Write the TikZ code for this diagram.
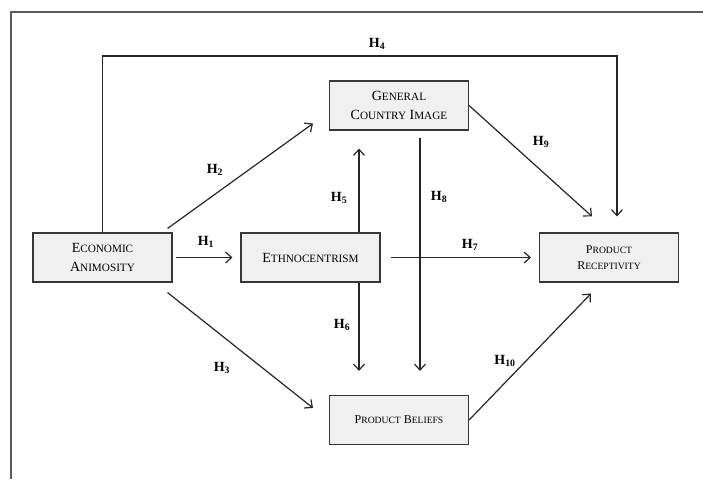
\documentclass[tikz,border=0pt]{standalone}
\usepackage{fontspec}
\setmainfont{Liberation Serif}
\usetikzlibrary{arrows.meta}

% chữ hoa nhỏ giả (small caps)
\newcommand{\fscA}[2]{{\fontsize{14}{19}\selectfont #1}{\fontsize{11.2}{19}\selectfont #2}}
\newcommand{\fscB}[2]{{\fontsize{12}{16}\selectfont #1}{\fontsize{9.6}{16}\selectfont #2}}
\newcommand{\hyp}[1]{\textbf{H\textsubscript{#1}}}

\begin{document}
\begin{tikzpicture}[x=1pt, y=-1pt, >={Straight Barb[length=6pt,width=11pt]}]
	
	% ==========================================
	% 1. MÀU SẮC VÀ KIỂU
	% ==========================================
	\definecolor{boxfill}{RGB}{240, 240, 240}   % nền hộp
	\definecolor{boxline}{RGB}{55, 55, 55}      % viền hộp
	\definecolor{framecol}{RGB}{90, 90, 90}     % khung ngoài
	
	\tikzset{
		construct/.style={draw=boxline, fill=boxfill, line width=1.1pt, minimum width=139pt, minimum height=49pt, align=center, inner sep=0pt, font=\fontsize{14}{19}\selectfont},
		smallconstruct/.style={construct, font=\fontsize{12}{16}\selectfont},
		link/.style={line width=1.2pt, draw=black!85},
		arr/.style={link, ->},
		hlabel/.style={font=\fontsize{14}{16}\selectfont, inner sep=0pt}
	}
	
	\useasboundingbox (0,0) rectangle (703,479);
	
	% ==========================================
	% 2. KHUNG NGOÀI
	% ==========================================
	\draw[framecol, line width=1.2pt] (11,479) -- (11,12) -- (703,12);
	
	% ==========================================
	% 3. CÁC HỘP KHÁI NIỆM
	% ==========================================
	\node[construct] (ea)  at (102.5,257.5) {\fscA{E}{CONOMIC}\\\fscA{A}{NIMOSITY}};
	\node[construct] (eth) at (310.5,257.5) {\fscA{E}{THNOCENTRISM}};
	\node[construct] (gci) at (399,105.5)   {\fscA{G}{ENERAL}\\\fscA{C}{OUNTRY} \fscA{I}{MAGE}};
	\node[smallconstruct] (pb) at (399,420)   {\fscB{P}{RODUCT} \fscB{B}{ELIEFS}};
	\node[smallconstruct] (pr) at (609,257.5) {\fscB{P}{RODUCT}\\\fscB{R}{ECEPTIVITY}};
	
	% trục dọc cho H5/H6 và H8
	\coordinate (c56) at (359,0);
	\coordinate (c8)  at (420,0);
	\coordinate (h4)  at (617,56);
	
	% ==========================================
	% 4. CÁC MŨI TÊN
	% ==========================================
	% H1
	\draw[arr, shorten <=3pt, shorten >=8pt] (ea.east) -- (eth.west);
	% H2, H3
	\draw[arr] ([shift={(-5,-4)}]ea.north east) -- ([shift={(-16,-7)}]gci.south west);
	\draw[arr] ([shift={(-5,10)}]ea.south east) -- ([shift={(-16,13)}]pb.north west);
	% H4 (đường vòng phía trên)
	\draw[arr, shorten >=16pt] (ea.north) |- (h4) -- (h4 |- pr.north);
	% H5, H6
	\draw[arr, shorten >=18pt] (eth.north -| c56) -- (gci.south -| c56);
	\draw[arr, shorten >=24pt] (eth.south -| c56) -- (pb.north -| c56);
	% H7
	\draw[arr, shorten <=10pt, shorten >=8pt] (eth.east) -- (pr.west);
	% H8
	\draw[arr, shorten <=7pt, shorten >=24pt] (gci.south -| c8) -- (pb.north -| c8);
	% H9, H10
	\draw[arr] (gci.east) -- ([shift={(-17,-16)}]pr.north);
	\draw[arr] (pb.east) -- ([shift={(-18,11)}]pr.south);
	
	% ==========================================
	% 5. NHÃN GIẢ THUYẾT
	% ==========================================
	\node[hlabel] (l1)  at (206,242) {\hyp{1}};
	\node[hlabel] (l2)  at (215,170) {\hyp{2}};
	\node[hlabel] (l3)  at (222,368) {\hyp{3}};
	\node[hlabel] (l4)  at (377,44)  {\hyp{4}};
	\node[hlabel] (l5)  at (339,198) {\hyp{5}};
	\node[hlabel] (l6)  at (342,325) {\hyp{6}};
	\node[hlabel] (l7)  at (470,245) {\hyp{7}};
	\node[hlabel] (l8)  at (439,197) {\hyp{8}};
	\node[hlabel] (l9)  at (541,142) {\hyp{9}};
	\node[hlabel] (l10) at (505,361) {\hyp{10}};
	
\end{tikzpicture}
\end{document}
